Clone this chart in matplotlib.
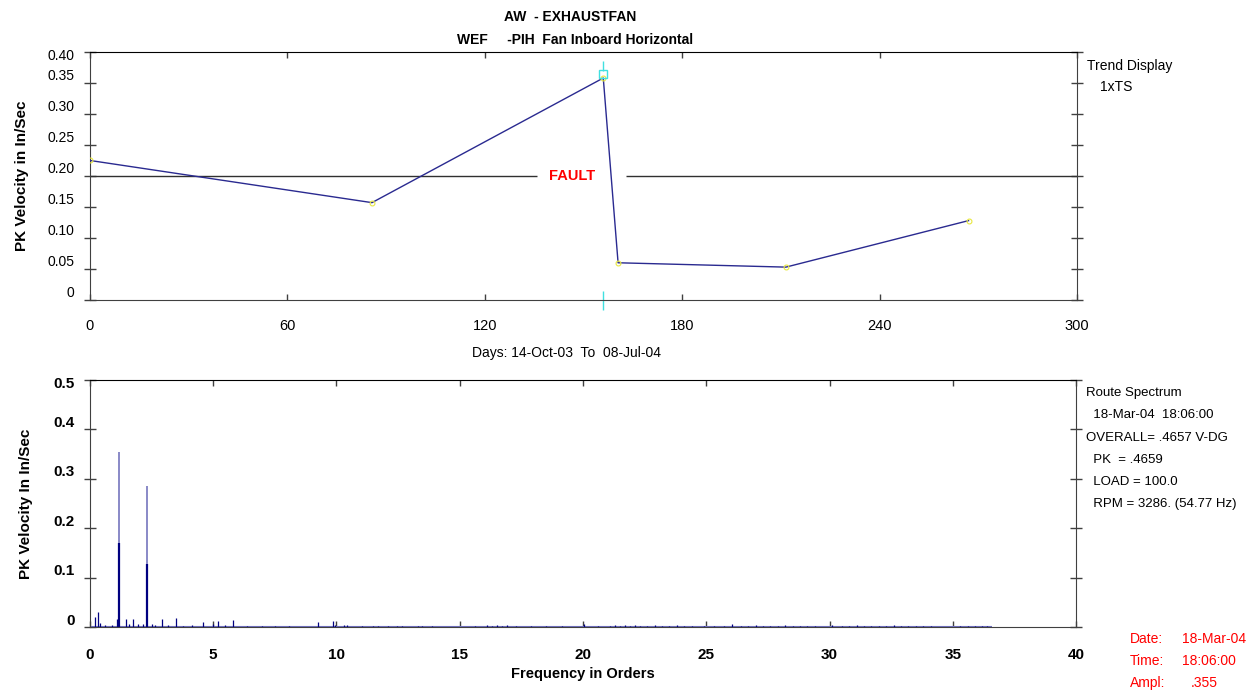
import matplotlib
matplotlib.use("Agg")
import matplotlib.pyplot as plt
import matplotlib.transforms as mtransforms

plt.rcParams['font.family'] = ['Liberation Sans', 'DejaVu Sans']

# trend data (days since 14-Oct-03, PK velocity in/sec)
trend_days = [0, 85.7, 156, 160.5, 211.5, 267]
trend_vals = [0.225, 0.157, 0.358, 0.060, 0.053, 0.128]
fault_level = 0.20
cursor_day = 156

# spectrum: two main lines, plus small peaks
main_orders = [1.19, 2.33]
main_top = [0.355, 0.285]
main_core = [0.17, 0.127]

noise_orders = [0.20, 0.31, 0.41, 0.61, 0.88, 1.11, 1.46, 1.60, 1.76, 1.96, 2.17, 2.50,
                2.64, 2.91, 3.18, 3.48, 3.79, 4.13, 4.60, 5.01, 5.21, 5.48, 5.79, 6.36,
                6.97, 7.51, 8.08, 9.23, 9.84, 9.95, 10.3, 10.42, 11.03, 11.5, 11.7, 12.1,
                12.45, 12.66, 13.3, 13.47, 13.87, 15.6, 16.1, 16.3, 16.5, 16.7, 16.9, 17.3,
                17.9, 18.5, 19.15, 20.05, 20.6, 21.1, 21.3, 21.5, 21.7, 21.9, 22.1, 22.3,
                22.6, 22.9, 23.2, 23.5, 23.8, 24.1, 24.4, 24.9, 25.3, 25.7, 26.06, 26.4,
                26.7, 27.0, 27.3, 27.6, 27.9, 28.2, 28.5, 28.8, 29.1, 29.4, 30.1, 30.5,
                30.8, 31.1, 31.4, 31.7, 32.0, 32.3, 32.6, 32.9, 33.2, 33.5, 33.8, 34.1,
                35.3, 35.6, 35.9, 36.2, 36.4]
noise_amps = [0.020, 0.031, 0.008, 0.004, 0.004, 0.016, 0.016, 0.006, 0.017, 0.006, 0.006, 0.006,
              0.004, 0.016, 0.004, 0.018, 0.003, 0.004, 0.010, 0.006, 0.012, 0.004, 0.015, 0.002,
              0.003, 0.003, 0.002, 0.011, 0.012, 0.005, 0.004, 0.005, 0.003, 0.003, 0.002, 0.003,
              0.003, 0.002, 0.003, 0.002, 0.002, 0.003, 0.004, 0.003, 0.005, 0.003, 0.004, 0.002,
              0.002, 0.002, 0.002, 0.006, 0.003, 0.003, 0.004, 0.003, 0.005, 0.003, 0.004, 0.003,
              0.003, 0.004, 0.003, 0.003, 0.004, 0.003, 0.003, 0.003, 0.002, 0.003, 0.006, 0.003,
              0.003, 0.004, 0.003, 0.003, 0.003, 0.004, 0.003, 0.003, 0.003, 0.002, 0.004, 0.003,
              0.003, 0.004, 0.003, 0.003, 0.003, 0.003, 0.004, 0.003, 0.003, 0.003, 0.003, 0.003,
              0.002, 0.002, 0.002, 0.002, 0.002]
spectrum_end = 36.6

top_yticks = [0, 0.05, 0.10, 0.15, 0.20, 0.25, 0.30, 0.35, 0.40]
top_ylabels = ["0", "0.05", "0.10", "0.15", "0.20", "0.25", "0.30", "0.35", "0.40"]
top_xticks = [0, 60, 120, 180, 240, 300]
bot_yticks = [0, 0.1, 0.2, 0.3, 0.4, 0.5]
bot_ylabels = ["0", "0.1", "0.2", "0.3", "0.4", "0.5"]
bot_xticks = [0, 5, 10, 15, 20, 25, 30, 35, 40]

navy = "#000080"
line_col = "#2a2a90"
cyan = "#40e0e0"
spine_col = "#404040"

fig = plt.figure(figsize=(12.51, 6.92), dpi=100)
ax1 = fig.add_axes([0.0719, 0.5665, 0.7891, 0.3584])
ax2 = fig.add_axes([0.0719, 0.0939, 0.7883, 0.3570])


def style_axes(ax, xpad):
    for side in ["left", "right", "bottom"]:
        ax.spines[side].set_color(spine_col)
    ax.spines["top"].set_color("black")
    ax.tick_params(axis="y", which="both", direction="inout", length=8, width=1,
                   color=spine_col, left=True, right=True, pad=7)
    ax.tick_params(axis="x", which="both", direction="in", length=4, width=1,
                   color=spine_col, top=True, bottom=True, pad=xpad)


def lift_labels(ax):
    # tick labels sit a little above their ticks, top one stays at the border
    labels = ax.get_yticklabels()
    for i, lab in enumerate(labels):
        dy = 0.08 if i < len(labels) - 1 else -0.03
        lab.set_transform(lab.get_transform() +
                          mtransforms.ScaledTranslation(0, dy, fig.dpi_scale_trans))


# ---- trend plot
ax1.plot(trend_days, trend_vals, color=line_col, lw=1, zorder=3)
ax1.plot(trend_days, trend_vals, "o", ms=3.5, mfc="none", mec="#e8e840", mew=0.8, zorder=4)
ax1.hlines(fault_level, 0, 135.9, color="#303030", lw=1)
ax1.hlines(fault_level, 162.9, 300, color="#303030", lw=1)
ax1.text(146.5, fault_level, "FAULT", color="red", fontsize=10.5, ha="center", va="center",
         fontweight="bold")
ax1.plot([cursor_day], [trend_vals[2] + 0.006], "s", ms=6, mfc="none", mec=cyan, mew=1, zorder=5)
ax1.vlines(cursor_day, 0.37, 0.385, color=cyan, lw=1)
ax1.vlines(cursor_day, -0.016, 0.014, color=cyan, lw=1, clip_on=False)
ax1.set_xlim(0, 300)
ax1.set_ylim(0, 0.40)
ax1.set_xticks(top_xticks)
ax1.set_xticklabels([str(t) for t in top_xticks], fontsize=10.5)
ax1.set_yticks(top_yticks)
ax1.set_yticklabels(top_ylabels, fontsize=10)
style_axes(ax1, 14)
lift_labels(ax1)
ax1.set_ylabel("PK Velocity in In/Sec", fontsize=11, fontweight="bold", labelpad=13)

fig.text(0.456, 0.975, "AW  - EXHAUSTFAN", ha="center", va="center", fontsize=10, fontweight="bold")
fig.text(0.4597, 0.942, "WEF     -PIH  Fan Inboard Horizontal", ha="center", va="center",
         fontsize=10, fontweight="bold")
fig.text(0.453, 0.490, "Days: 14-Oct-03  To  08-Jul-04", ha="center", va="center", fontsize=10)
fig.text(0.869, 0.905, "Trend Display", fontsize=10, va="center")
fig.text(0.879, 0.874, "1xTS", fontsize=10, va="center")

# ---- spectrum plot
ax2.hlines(0, 0, spectrum_end, color="#7070c0", lw=1.5, zorder=2)
ax2.vlines(noise_orders, 0, noise_amps, color=navy, lw=0.9, zorder=3)
ax2.vlines(main_orders, 0, main_top, color="#6a6ab8", lw=1.1, zorder=3)
ax2.vlines(main_orders, 0, main_core, color=navy, lw=1.6, zorder=4)
ax2.set_xlim(0, 40)
ax2.set_ylim(0, 0.5)
ax2.set_xticks(bot_xticks)
ax2.set_xticklabels([str(t) for t in bot_xticks], fontsize=11, fontweight="bold")
ax2.set_yticks(bot_yticks)
ax2.set_yticklabels(bot_ylabels, fontsize=11, fontweight="bold")
style_axes(ax2, 15)
lift_labels(ax2)
ax2.set_ylabel("PK Velocity In In/Sec", fontsize=11, fontweight="bold", labelpad=15)
ax2.set_xlabel("Frequency in Orders", fontsize=10.5, fontweight="bold", labelpad=4)

info = ["Route Spectrum", "  18-Mar-04  18:06:00", "OVERALL= .4657 V-DG", "  PK  = .4659",
        "  LOAD = 100.0", "  RPM = 3286. (54.77 Hz)"]
for i, line in enumerate(info):
    fig.text(0.868, 0.432 - i * 0.0322, line, fontsize=9.5, va="center")

marker_labels = ["Date:", "Time:", "Ampl:"]
marker_values = ["18-Mar-04", "18:06:00", ".355"]
marker_x = [0.9445, 0.9445, 0.9515]
for i in range(3):
    y = 0.077 - i * 0.0318
    fig.text(0.903, y, marker_labels[i], fontsize=10, va="center", color="red")
    fig.text(marker_x[i], y, marker_values[i], fontsize=10, va="center", color="red")

fig.savefig("out.png", dpi=100)
